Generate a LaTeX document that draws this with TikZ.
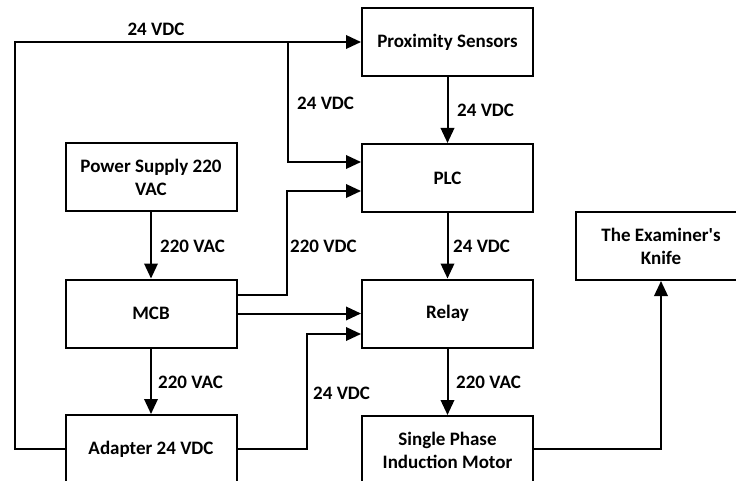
\documentclass[tikz,border=0pt]{standalone}
\usepackage{fontspec}
\newfontfamily\calfont{Carlito}
\usetikzlibrary{arrows.meta}
\begin{document}
\begin{tikzpicture}[x=1pt,y=-1pt,
  box/.style={draw,line width=2pt,minimum width=171pt,minimum height=68pt,align=center,font=\calfont\fontsize{19}{23}\selectfont\bfseries,inner sep=2pt},
  lbl/.style={font=\calfont\fontsize{19}{23}\selectfont\bfseries,inner sep=0pt,anchor=west},
  arr/.style={line width=2pt,-{Triangle[length=15pt,width=13.5pt]}}]
\clip (0,0) rectangle (736,481);
\node[box] (prox) at (447.5,42) {Proximity Sensors};
\node[box] (plc) at (447.5,178) {PLC};
\node[box] (relay) at (447.5,313.5) {Relay};
\node[box] (motor) at (447.5,450) {Single Phase\\Induction Motor};
\node[box] (knife) at (661,246) {The Examiner's\\Knife};
\node[box] (ps) at (151,177.5) {Power Supply 220\\VAC};
\node[box] (mcb) at (151,313.5) {MCB};
\node[box] (adapter) at (151,449) {Adapter 24 VDC};
\coordinate (lft) at (15,42);
\coordinate (br) at (288,42);
\draw[arr] (adapter.west) -| (lft) -- (prox.west);
\draw[arr] (br) |- ([yshift=16pt]plc.west);
\draw[arr] (prox.south) -- (plc.north);
\draw[arr] (plc.south) -- (relay.north);
\draw[arr] (relay.south) -- (motor.north);
\draw[arr] (ps.south) -- (mcb.north);
\draw[arr] (mcb.south) -- (adapter.north);
\draw[arr] ([yshift=18.5pt]mcb.east) -| (287,191) -- ([yshift=-13pt]plc.west);
\draw[arr] (mcb.east) -- (relay.west);
\draw[arr] (adapter.east) -| (307,334) -- ([yshift=-20.5pt]relay.west);
\draw[arr] (motor.east |- adapter.east) -| (knife.south);
\node[lbl,anchor=center] (l1) at (156,29) {24 VDC};
\node[lbl] (l2) at (297,103) {24 VDC};
\node[lbl] (l3) at (160,246) {220 VAC};
\node[lbl] (l4) at (290,246) {220 VDC};
\node[lbl] (l5) at (158,382) {220 VAC};
\node[lbl] (l6) at (313,393) {24 VDC};
\node[lbl] (l7) at (457,110) {24 VDC};
\node[lbl] (l8) at (453,246) {24 VDC};
\node[lbl] (l9) at (456,382) {220 VAC};
\end{tikzpicture}
\end{document}
